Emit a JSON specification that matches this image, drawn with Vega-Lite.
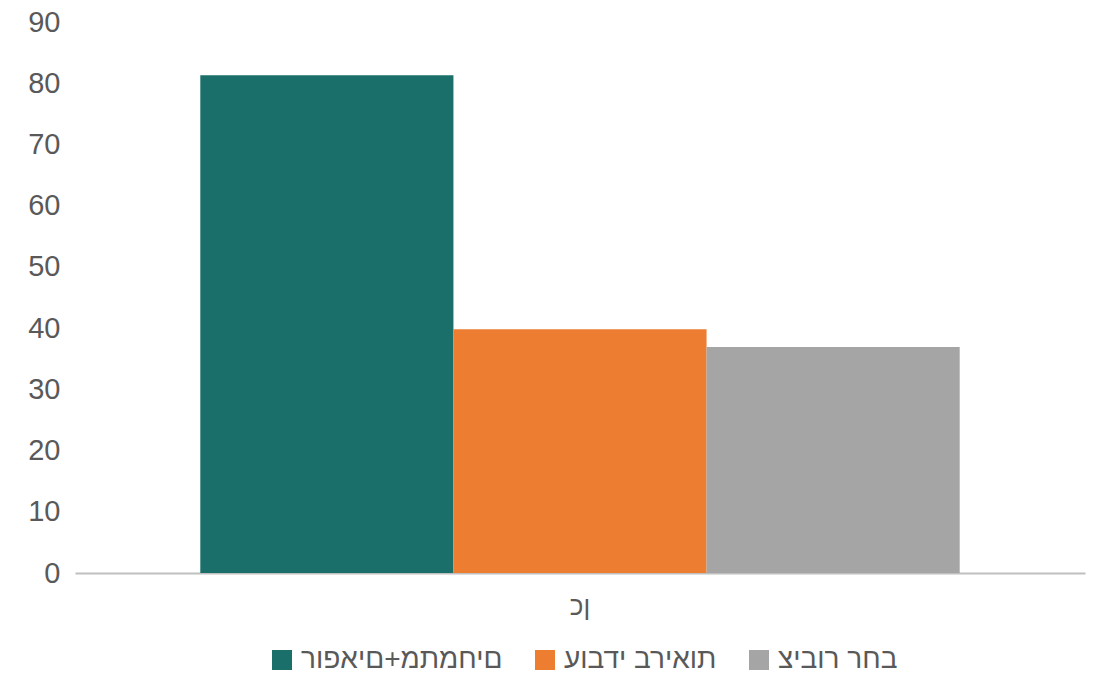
{
  "$schema": "https://vega.github.io/schema/vega-lite/v6.json",
  "width": 1010,
  "height": 551,
  "autosize": {"type": "none"},
  "padding": {"left": 75, "top": 22, "right": 17, "bottom": 103},
  "background": "#ffffff",
  "data": {
    "values": [
      {"answer": "‭כן‬", "group": "םיחמתמ+םיאפור", "value": 81.3},
      {"answer": "‭כן‬", "group": "תואירב ידבוע", "value": 39.8},
      {"answer": "‭כן‬", "group": "בחר רוביצ", "value": 36.9}
    ]
  },
  "mark": {"type": "bar"},
  "encoding": {
    "x": {
      "field": "answer",
      "type": "nominal",
      "scale": {"paddingInner": 0, "paddingOuter": 0.165},
      "axis": {
        "title": null,
        "labelAngle": 0,
        "ticks": false,
        "domainColor": "#bfbfbf",
        "domainWidth": 2,
        "labelFont": "Liberation Sans",
        "labelFontSize": 26,
        "labelColor": "#595959",
        "labelPadding": 20
      }
    },
    "xOffset": {
      "field": "group",
      "type": "nominal",
      "sort": ["םיחמתמ+םיאפור", "תואירב ידבוע", "בחר רוביצ"],
      "scale": {"paddingInner": 0, "paddingOuter": 0}
    },
    "y": {
      "field": "value",
      "type": "quantitative",
      "scale": {"domain": [0, 90]},
      "axis": {
        "title": null,
        "values": [0, 10, 20, 30, 40, 50, 60, 70, 80, 90],
        "domain": false,
        "ticks": false,
        "grid": false,
        "labelFont": "Liberation Sans",
        "labelFontSize": 29,
        "labelColor": "#595959",
        "labelPadding": 15
      }
    },
    "color": {
      "field": "group",
      "type": "nominal",
      "sort": ["םיחמתמ+םיאפור", "תואירב ידבוע", "בחר רוביצ"],
      "scale": {
        "domain": ["םיחמתמ+םיאפור", "תואירב ידבוע", "בחר רוביצ"],
        "range": ["#1a6f6b", "#ed7d31", "#a5a5a5"]
      },
      "legend": {
        "title": null,
        "orient": "none",
        "legendX": 193,
        "legendY": 624,
        "direction": "horizontal",
        "symbolType": "square",
        "symbolSize": 400,
        "symbolStrokeWidth": 0,
        "labelFont": "Liberation Sans",
        "labelFontSize": 28,
        "labelColor": "#595959",
        "labelLimit": 0,
        "columnPadding": 28,
        "labelOffset": 5
      }
    }
  },
  "config": {"view": {"stroke": null}}
}
